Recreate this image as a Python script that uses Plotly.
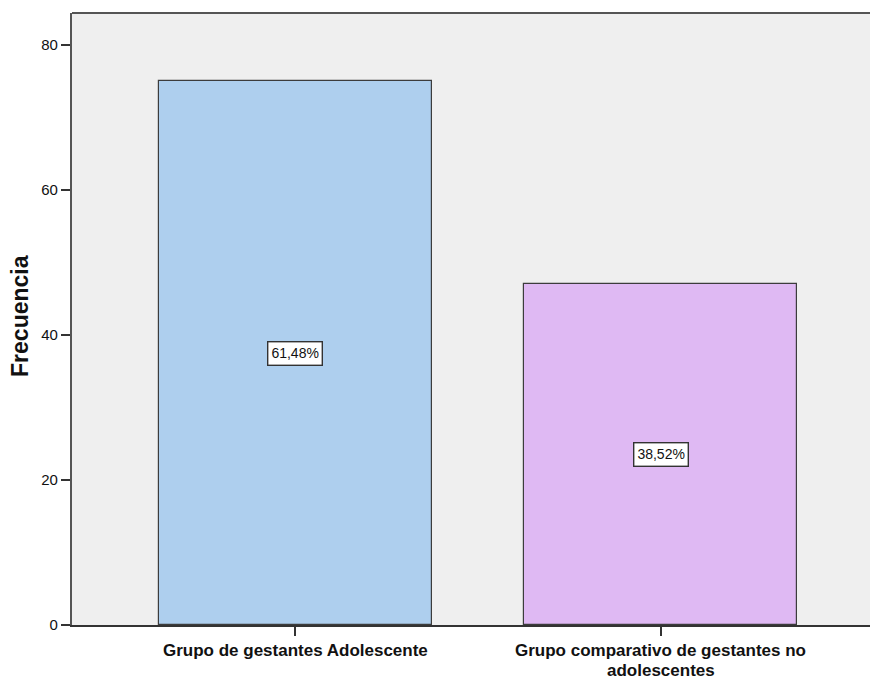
import plotly.graph_objects as go

# Frequencies per group
categorias = ["Grupo de gestantes Adolescente",
              "Grupo comparativo de gestantes no<br>adolescentes"]
frecuencias = [75, 47]
colores = ["#aecfee", "#dfb9f3"]

total = sum(frecuencias)
porcentajes = [f / total * 100 for f in frecuencias]
etiquetas = [f"{p:.2f}%".replace(".", ",") for p in porcentajes]

x_pos = list(range(len(categorias)))
FUENTE = "Liberation Sans, Arial, sans-serif"

fig = go.Figure()
fig.add_trace(go.Bar(
    x=x_pos,
    y=frecuencias,
    width=0.747,
    marker=dict(color=colores, line=dict(color="#3c3c3c", width=1.2)),
    hoverinfo="skip",
))

# Percentage labels at mid-height of each bar
for xi, f, lab in zip(x_pos, frecuencias, etiquetas):
    fig.add_annotation(
        x=xi, y=f / 2, text=lab, showarrow=False,
        font=dict(family=FUENTE, size=14, color="#111"),
        bgcolor="white", bordercolor="#333", borderwidth=1.4, borderpad=3,
    )

# Category labels, one line at a time for tight line spacing
for xi, cat in zip(x_pos, categorias):
    for k, linea in enumerate(cat.split("<br>")):
        fig.add_annotation(
            x=xi, xref="x", y=0, yref="paper", text=f"<b>{linea}</b>",
            showarrow=False, xanchor="center", yanchor="middle",
            yshift=-(25.5 + 19.5 * k),
            font=dict(family=FUENTE, size=17, color="#111"),
        )

# Vertical axis title
fig.add_annotation(
    xref="paper", yref="paper", x=(20 - 72) / 798, y=0.505,
    text="<b>Frecuencia</b>", textangle=-90, showarrow=False,
    xanchor="center", yanchor="middle",
    font=dict(family=FUENTE, size=23, color="#111"),
)

# Frame: top border line
fig.add_shape(type="line", xref="paper", yref="paper", x0=0, x1=1, y0=1, y1=1,
              line=dict(color="#555", width=2.2))

fig.update_layout(
    width=870, height=680,
    margin=dict(l=72, r=0, t=13, b=55, autoexpand=False),
    paper_bgcolor="white",
    plot_bgcolor="#efefef",
    showlegend=False,
    bargap=0,
    font=dict(family=FUENTE, color="#111"),
    xaxis=dict(
        range=[-0.611, 1.572],
        tickmode="array", tickvals=x_pos, showticklabels=False,
        ticks="outside", ticklen=9, tickwidth=1.5, tickcolor="#333",
        showline=True, linecolor="#333", linewidth=1.5,
        showgrid=False, zeroline=False, fixedrange=True, automargin=False,
    ),
    yaxis=dict(
        range=[0, 84.4],
        tickvals=[0, 20, 40, 60, 80],
        tickfont=dict(size=15),
        ticks="outside", ticklen=9, tickwidth=1.5, tickcolor="#333",
        showline=True, linecolor="#555", linewidth=2.2,
        showgrid=False, zeroline=False, automargin=False,
    ),
)

fig.write_html("out.html")
